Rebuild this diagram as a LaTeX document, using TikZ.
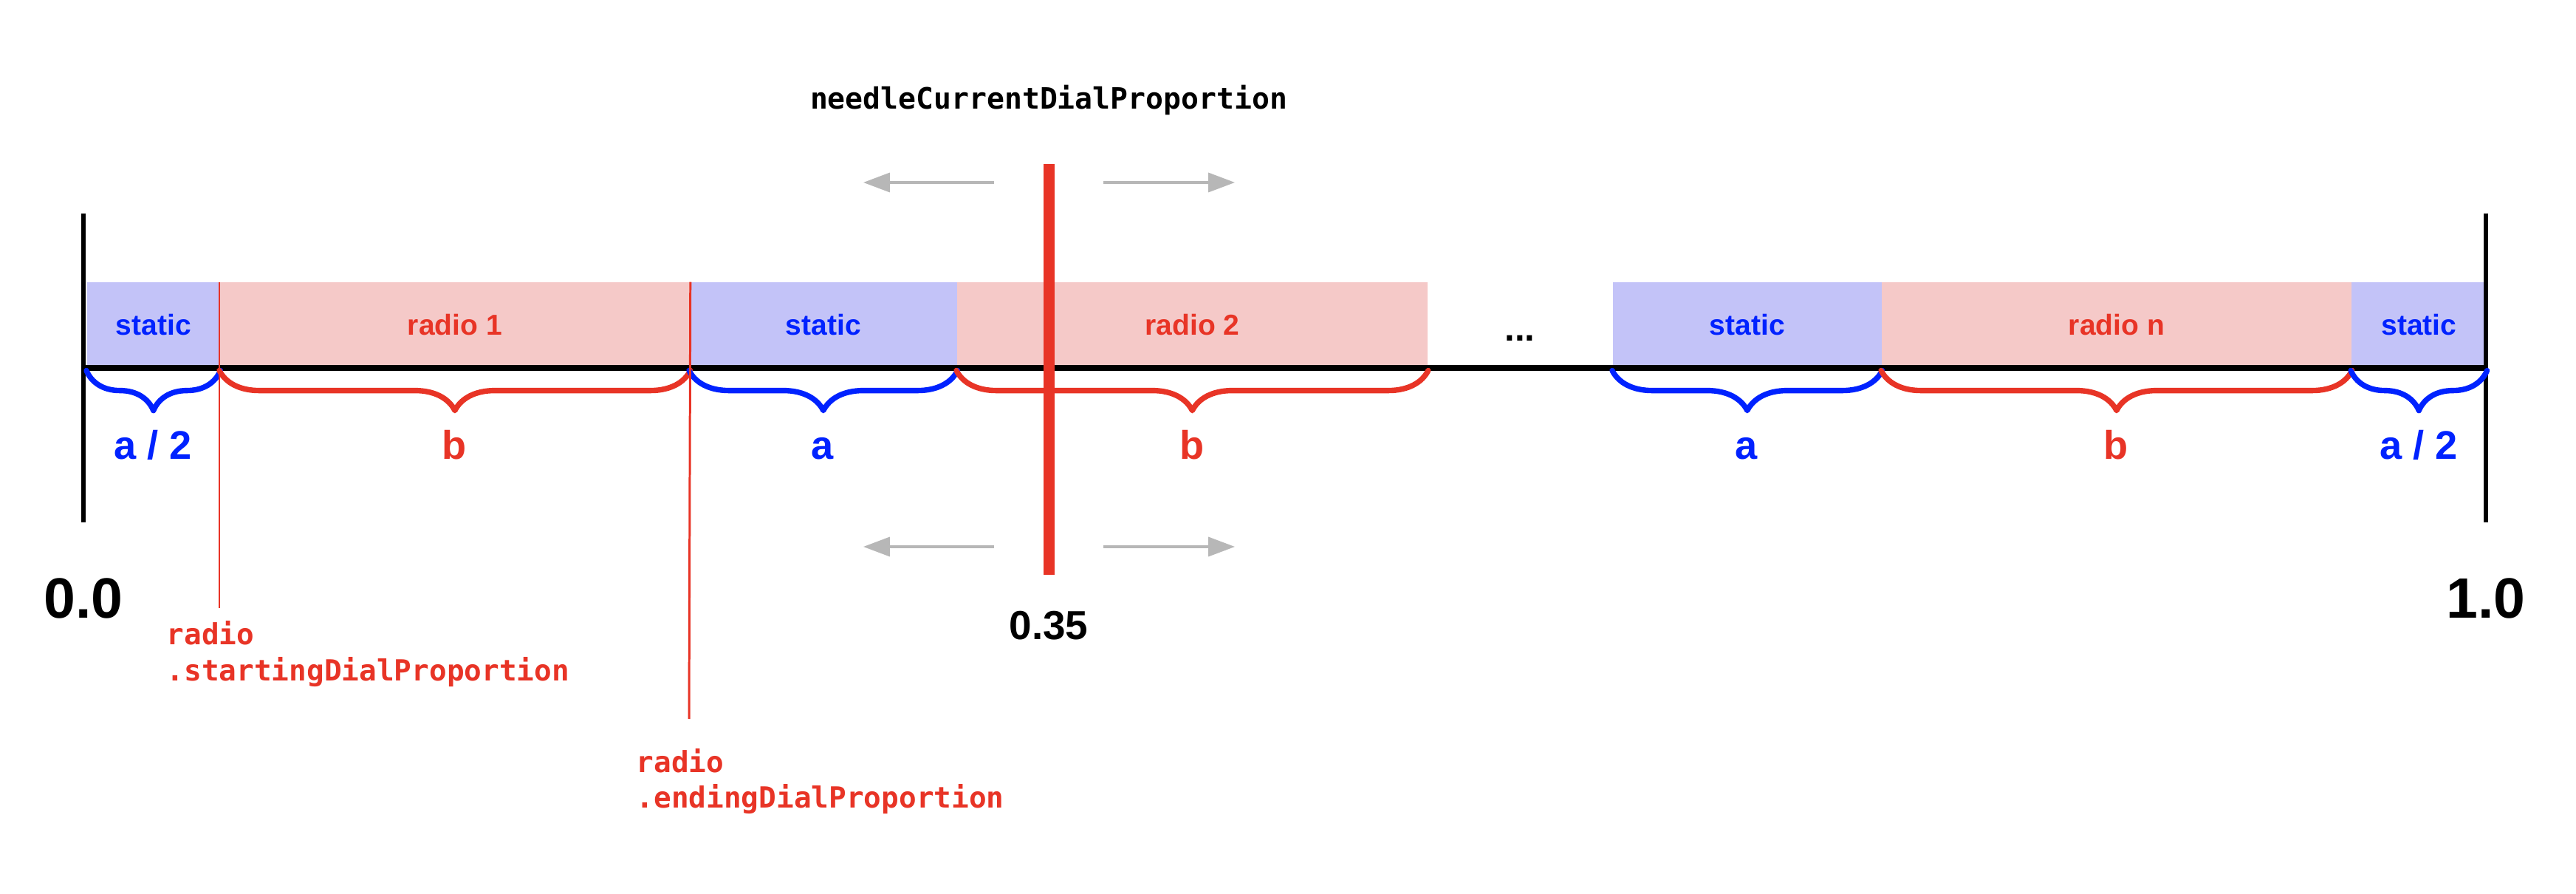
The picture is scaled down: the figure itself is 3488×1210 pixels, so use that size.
\documentclass[tikz,border=0pt]{standalone}
\usepackage{fontspec}
\setmainfont{Liberation Sans}
\newfontfamily\codefont{DejaVu Sans Mono}
\usetikzlibrary{arrows.meta}
\usetikzlibrary{decorations.pathreplacing}
\definecolor{dialblue}{RGB}{0,34,255}
\definecolor{dialred}{RGB}{232,52,38}
\definecolor{staticfill}{RGB}{195,195,248}
\definecolor{radiofill}{RGB}{245,201,200}
\definecolor{arrowgrey}{RGB}{183,183,183}

\tikzset{
  seg/.style={inner sep=0pt, minimum height=1.15cm, anchor=south west, font=\fontsize{11.1}{13}\selectfont\bfseries},
  staticseg/.style={seg, fill=staticfill, text=dialblue},
  radioseg/.style={seg, fill=radiofill, text=dialred},
  span/.style={decorate, decoration={brace, amplitude=15.4pt, raise=1pt}, line width=2.1pt, line join=round, line cap=round},
  lenlabel/.style={anchor=base, inner sep=0pt, font=\fontsize{15.4}{18}\selectfont\bfseries},
  codelabel/.style={anchor=base west, inner sep=0pt, font=\fontsize{11.2}{14}\codefont\bfseries},
  endlabel/.style={anchor=base, inner sep=0pt, font=\fontsize{21.9}{24}\selectfont\bfseries},
  moving/.style={arrowgrey, line width=0.95pt, -{Triangle[length=10.2pt,width=7.4pt]}}
}

\begin{document}
\begin{tikzpicture}[x=0.01cm, y=-0.01cm]
                \useasboundingbox (0,0) rectangle (3488,1210);

                % segments of the dial
                \node[staticseg, minimum width=1.80cm] (s1) at (117,498) {static};
                \node[radioseg, minimum width=6.36cm] (r1) at (297,498) {radio 1};
                \node[staticseg, minimum width=3.62cm] (s2) at (933,498) {static};
                \node[radioseg, minimum width=6.37cm] (r2) at (1295,498) {radio 2};
                \node[staticseg, minimum width=3.64cm] (s3) at (2183,498) {static};
                \node[radioseg, minimum width=6.36cm] (r3) at (2547,498) {radio n};
                \node[staticseg, minimum width=1.83cm] (s4) at (3183,498) {static};
                \node[anchor=base, inner sep=0pt, font=\fontsize{14}{16}\selectfont\bfseries] (dots) at (2058,462) {...};

                % axis
                \draw[line width=2pt] (113,498) -- (3366,498);
                \draw[line width=1.9pt] (113,289) -- (113,707);
                \draw[line width=1.9pt] (3366,289) -- (3366,707);
                \node[endlabel] (zero) at (113,837) {0.0};
                \node[endlabel] (one) at (3366,837) {1.0};

                % braces
                \draw[span, dialblue] (s1.south east) -- (s1.south west);
                \draw[span, dialred] (r1.south east) -- (r1.south west);
                \draw[span, dialblue] (s2.south east) -- (s2.south west);
                \draw[span, dialred] (r2.south east) -- (r2.south west);
                \draw[span, dialblue] (s3.south east) -- (s3.south west);
                \draw[span, dialred] (r3.south east) -- (r3.south west);
                \draw[span, dialblue] (s4.south east) -- (s4.south west);

                \node[lenlabel, dialblue] at (207,622) {a / 2};
                \node[lenlabel, dialred] at (615,622) {b};
                \node[lenlabel, dialblue] at (1114,622) {a};
                \node[lenlabel, dialred] at (1614,622) {b};
                \node[lenlabel, dialblue] at (2365,622) {a};
                \node[lenlabel, dialred] at (2865,622) {b};
                \node[lenlabel, dialblue] at (3275,622) {a / 2};

                % start and end of radio 1
                \coordinate (startend) at (297,823);
                \coordinate (endend) at (933,973);
                \draw[dialred, line width=0.85pt] (r1.north west) -- (startend);
                \draw[dialred, line width=0.85pt] (r1.north east) -- (endend);
                \node[codelabel, dialred] at (225,873) {radio};
                \node[codelabel, dialred] at (225,922) {.startingDialProportion};
                \node[codelabel, dialred] at (861,1045) {radio};
                \node[codelabel, dialred] at (861,1093) {.endingDialProportion};

                % needle
                \draw[dialred, line width=4.27pt] (1420,222) -- (1420,778);
                \node[anchor=base, inner sep=0pt, font=\fontsize{11.3}{14}\codefont\bfseries] (needle) at (1420,148) {needleCurrentDialProportion};
                \node[anchor=base, inner sep=0pt, font=\fontsize{15.6}{18}\selectfont\bfseries] (value) at (1420,866) {0.35};

                \draw[moving] (1346,247) -- (1169,247);
                \draw[moving] (1494,247) -- (1672,247);
                \draw[moving] (1346,740) -- (1169,740);
                \draw[moving] (1494,740) -- (1672,740);

            \end{tikzpicture}
\end{document}
